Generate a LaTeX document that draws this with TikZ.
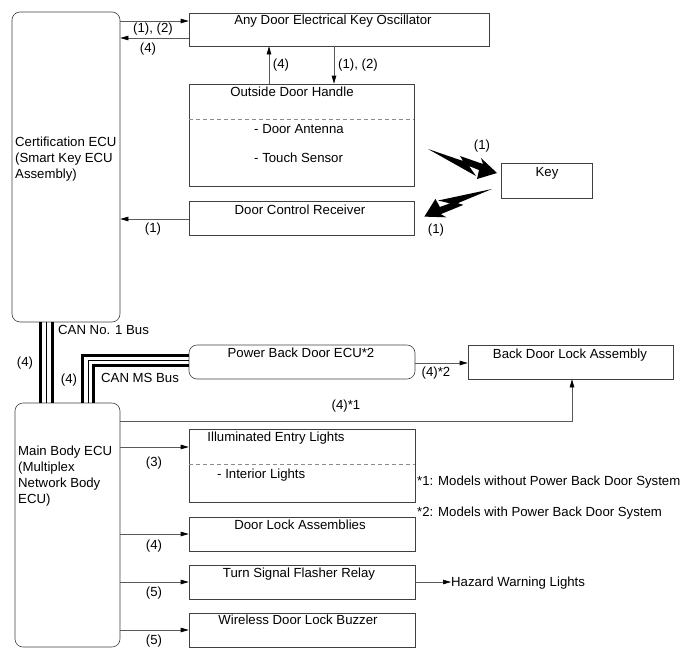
\documentclass[tikz,border=0pt]{standalone}
\usepackage{fontspec}
\setmainfont{Liberation Sans}
\usetikzlibrary{arrows.meta}
\begin{document}
\begin{tikzpicture}[x=1pt,y=-1pt,
  txt/.style={font=\fontsize{13.2}{16}\selectfont, inner sep=0pt, text height=9.5pt, text depth=2.5pt},
  mtxt/.style={font=\fontsize{13.2}{16}\selectfont, inner sep=0pt, align=left},
  box/.style={draw=black!75, line width=0.6pt, inner sep=0pt},
  rbox/.style={box, rounded corners=8pt},
  conn/.style={draw=black!65, line width=0.6pt},
  arr/.style={conn, -{Triangle[length=8pt,width=4.5pt,color=black]}},
  canthick/.style={line width=3pt},
  canthin/.style={line width=1pt},
  sep/.style={draw=black!45, line width=0.8pt, dash pattern=on 4pt off 3pt}]
\useasboundingbox (0,0) rectangle (690,659);
% boxes
\node[rbox, minimum width=108pt, minimum height=310pt] (cert) at (66,167) {};
\node[rbox, minimum width=105pt, minimum height=244pt] (main) at (67.5,525) {};
\node[box, minimum width=300pt, minimum height=33pt] (osc) at (339,29.5) {};
\node[box, minimum width=225pt, minimum height=102pt] (odh) at (301.5,135) {};
\node[box, minimum width=91pt, minimum height=35pt] (key) at (546.5,180.5) {};
\node[box, minimum width=225pt, minimum height=34pt] (dcr) at (301.5,218) {};
\node[rbox, minimum width=226pt, minimum height=34pt] (pbd) at (302,362) {};
\node[box, minimum width=205pt, minimum height=34pt] (bdl) at (570.5,362) {};
\node[box, minimum width=226pt, minimum height=73pt] (iel) at (302,465.5) {};
\node[box, minimum width=226pt, minimum height=34pt] (dla) at (302,534) {};
\node[box, minimum width=226pt, minimum height=34pt] (tsf) at (302,582) {};
\node[box, minimum width=226pt, minimum height=34pt] (wdl) at (302,630) {};
% dashed separators
\draw[sep] (odh.west |- 0,119) -- (odh.east |- 0,119);
\draw[sep] (iel.west |- 0,464) -- (iel.east |- 0,464);
% box texts
\node[mtxt, anchor=west] (certt) at (15,159) {Certification ECU\\(Smart Key ECU\\Assembly)};
\node[mtxt, anchor=west] (maint) at (18,476) {Main Body ECU\\(Multiplex\\Network Body\\ECU)};
\node[txt] (osct) at (333,21) {Any Door Electrical Key Oscillator};
\node[txt] (odht) at (292,93) {Outside Door Handle};
\node[txt, anchor=west] (odha) at (254,130) {- Door Antenna};
\node[txt, anchor=west] (odhs) at (254,159) {- Touch Sensor};
\node[txt] (keyt) at (547,173) {Key};
\node[txt] (dcrt) at (300,211) {Door Control Receiver};
\node[txt] (pbdt) at (301,354) {Power Back Door ECU*2};
\node[txt] (bdlt) at (570,355) {Back Door Lock Assembly};
\node[txt] (ielt) at (276,438) {Illuminated Entry Lights};
\node[txt, anchor=west] (ieli) at (217,475) {- Interior Lights};
\node[txt] (dlat) at (300,526) {Door Lock Assemblies};
\node[txt] (tsft) at (299,574) {Turn Signal Flasher Relay};
\node[txt] (wdlt) at (298,621) {Wireless Door Lock Buzzer};
\node[txt, anchor=west] (haz) at (451,583) {Hazard Warning Lights};
\node[txt, anchor=west] (fn1) at (417,482) {*1: Models without Power Back Door System};
\node[txt, anchor=west] (fn2) at (417,513) {*2: Models with Power Back Door System};
% connectors top
\draw[arr] (cert.east |- 0,21) -- (osc.west |- 0,21);
\draw[arr] (osc.west |- 0,38) -- (cert.east |- 0,38);
\draw[arr] (odh.north -| 269,0) -- (osc.south -| 269,0);
\draw[arr] (osc.south -| 334,0) -- (odh.north -| 334,0);
\draw[arr] (dcr.west |- 0,219) -- (cert.east |- 0,219);
\node[txt] (l12a) at (153,29) {(1), (2)};
\node[txt] (l4a) at (148,49) {(4)};
\node[txt] (l4b) at (281,65) {(4)};
\node[txt] (l12b) at (358,65) {(1), (2)};
\node[txt] (l1c) at (153,229) {(1)};
% wireless bolts (lightning arrows)
\begin{scope}[shift={(428,149)}]
  \fill (0,0) -- (35,12) -- (32,7) -- (55,15) -- (53,9) -- (69,24) -- (49,30) -- (51,21) -- (41,17) -- (48,27) -- cycle;
\end{scope}
\begin{scope}[shift={(492,189)}, rotate=-138.6]
  \fill (0,0) -- (35,12) -- (32,7) -- (55,15) -- (53,9) -- (69,24) -- (49,30) -- (51,21) -- (41,17) -- (48,27) -- cycle;
\end{scope}
\node[txt] (l1a) at (482,146) {(1)};
\node[txt] (l1b) at (436,230) {(1)};
% CAN No. 1 bus
\draw[canthick] (cert.south -| 40.5,0) -- (main.north -| 40.5,0);
\draw[canthin] (cert.south -| 46.5,0) -- (main.north -| 46.5,0);
\draw[canthick] (cert.south -| 52,0) -- (main.north -| 52,0);
\node[txt, anchor=west] (can1) at (58,331) {CAN No. 1 Bus};
\node[txt] (l4c) at (25,363) {(4)};
% CAN MS bus
\draw[canthick, line join=miter] (main.north -| 82.5,0) -- (82.5,355.5) -- (pbd.west |- 0,355.5);
\draw[canthin, line join=miter] (main.north -| 88,0) -- (88,360.5) -- (pbd.west |- 0,360.5);
\draw[canthick, line join=miter] (main.north -| 93.5,0) -- (93.5,365.5) -- (pbd.west |- 0,365.5);
\node[txt, anchor=west] (canms) at (101,379) {CAN MS Bus};
\node[txt] (l4d) at (69,380) {(4)};
% back door
\draw[arr] (pbd.east |- 0,363) -- (bdl.west |- 0,363);
\node[txt] (l42) at (436,373) {(4)*2};
\draw[arr] (main.east |- 0,421) -- (572,421) -- (bdl.south -| 572,0);
\node[txt] (l41) at (346,406) {(4)*1};
% main body outputs
\draw[arr] (main.east |- 0,447) -- (iel.west |- 0,447);
\draw[arr] (main.east |- 0,534) -- (dla.west |- 0,534);
\draw[arr] (main.east |- 0,582) -- (tsf.west |- 0,582);
\draw[arr] (main.east |- 0,630) -- (wdl.west |- 0,630);
\draw[arr] (tsf.east |- 0,582) -- (haz.west |- 0,582);
\node[txt] (l3) at (154,463) {(3)};
\node[txt] (l4e) at (154,546) {(4)};
\node[txt] (l5a) at (154,593) {(5)};
\node[txt] (l5b) at (154,641) {(5)};
\end{tikzpicture}
\end{document}
